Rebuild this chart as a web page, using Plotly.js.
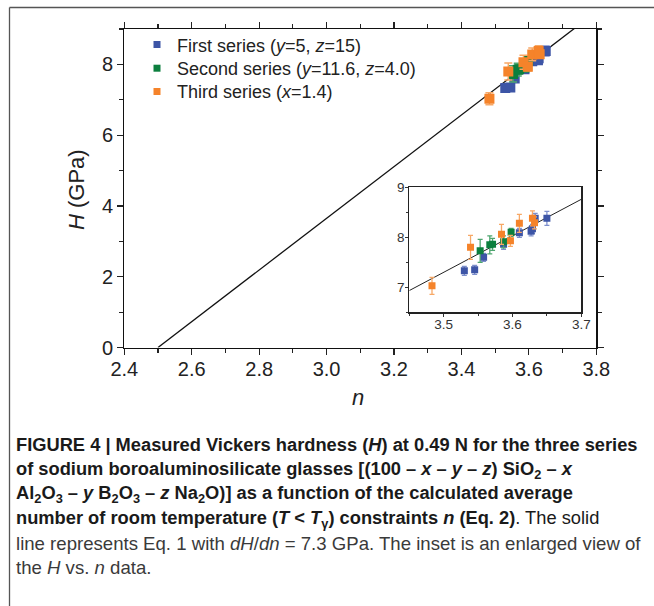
<!DOCTYPE html>
<html><head><meta charset="utf-8">
<script src="https://cdn.plot.ly/plotly-3.0.1.min.js"></script>
<style>html,body{margin:0;padding:0;background:#fff}#chart{width:654px;height:606px}</style>
</head><body><div id="chart"></div>
<script>
// ---- data ----
const firstN   = [3.530, 3.545, 3.558, 3.587, 3.610, 3.627, 3.629, 3.633, 3.650];
const firstH   = [7.33, 7.35, 7.60, 7.86, 8.09, 8.12, 8.17, 8.38, 8.38];
const firstErr = [0.09, 0.09, 0.08, 0.10, 0.09, 0.09, 0.09, 0.10, 0.14];

const secondN   = [3.553, 3.567, 3.571, 3.587, 3.598];
const secondH   = [7.73, 7.85, 7.86, 7.91, 8.10];
const secondErr = [0.23, 0.18, 0.12, 0.12, 0.08];

const thirdN   = [3.483, 3.539, 3.584, 3.597, 3.610, 3.629, 3.632];
const thirdH   = [7.03, 7.80, 8.06, 7.93, 8.28, 8.38, 8.29];
const thirdErr = [0.17, 0.24, 0.20, 0.11, 0.18, 0.15, 0.12];

const seriesNames = [
  'First series (<i>y</i>=5, <i>z</i>=15)',
  'Second series (<i>y</i>=11.6, <i>z</i>=4.0)',
  'Third series (<i>x</i>=1.4)'
];
const seriesColors = ['#3d55a6', '#0c7f3e', '#f5832a'];
const errColors    = ['#7d8fcc', '#4ea56f', '#f7a866'];

// Eq. 1 : H = dH/dn * (n - n0)
const slope = 7.3;
const n0 = 2.5;
const mainLineN  = [n0, 3.8];
const insetLineN = [3.45, 3.7];

const captionLines = [
  '<b>FIGURE 4 | Measured Vickers hardness (<i>H</i>) at 0.49 N for the three series</b>',
  '<b>of sodium boroaluminosilicate glasses [(100 – <i>x</i> – <i>y</i> – <i>z</i>) SiO<sub>2</sub> – <i>x</i></b>',
  '<b>Al<sub>2</sub>O<sub>3</sub> – <i>y</i> B<sub>2</sub>O<sub>3</sub> – <i>z</i> Na<sub>2</sub>O)] as a function of the calculated average</b>',
  '<b>number of room temperature (<i>T</i> &lt; <i>T</i><sub>γ</sub>) constraints <i>n</i> (Eq. 2)</b>. The solid',
  'line represents Eq. 1 with <i>dH</i>/<i>dn</i> = 7.3 GPa. The inset is an enlarged view of',
  'the <i>H</i> vs. <i>n</i> data.'
];

// ---- build ----
const W = 654, H = 606;
const px = v => v / W;
const py = v => 1 - v / H;
const eq1 = arr => arr.map(n => slope * (n - n0));

const series = [
  {n: firstN, h: firstH, e: firstErr},
  {n: secondN, h: secondH, e: secondErr},
  {n: thirdN, h: thirdH, e: thirdErr}
];

const traces = [];
traces.push({x: mainLineN, y: eq1(mainLineN), mode: 'lines', xaxis: 'x', yaxis: 'y',
  line: {color: '#111', width: 1.3}, showlegend: false, hoverinfo: 'skip'});
traces.push({x: insetLineN, y: eq1(insetLineN), mode: 'lines', xaxis: 'x2', yaxis: 'y2',
  line: {color: '#222', width: 1}, showlegend: false, hoverinfo: 'skip'});

series.forEach((s, i) => {
  traces.push({x: s.n, y: s.h, mode: 'markers', type: 'scatter', xaxis: 'x', yaxis: 'y',
    name: seriesNames[i], showlegend: false,
    marker: {symbol: 'square', size: 10, color: seriesColors[i]},
    error_y: {type: 'data', array: s.e, visible: true, color: errColors[i], thickness: 1.5, width: 4}});
});
const legendIds = ['legend', 'legend2', 'legend3'];
series.forEach((s, i) => {
  traces.push({x: s.n, y: s.h, mode: 'markers', type: 'scatter', xaxis: 'x2', yaxis: 'y2',
    name: seriesNames[i], showlegend: true, legend: legendIds[i],
    marker: {symbol: 'square', size: 7, color: seriesColors[i]},
    error_y: {type: 'data', array: s.e, visible: true, color: errColors[i], thickness: 1.3, width: 2.5}});
});

const FONT = 'Liberation Sans, Arial, Helvetica, sans-serif';

const annotations = [
  {text: '<i>H</i> (GPa)', xref: 'paper', yref: 'paper', x: px(76), y: py(190), textangle: -90,
   showarrow: false, xanchor: 'center', yanchor: 'middle', font: {family: FONT, size: 22, color: '#222'}},
  {text: '<i>n</i>', xref: 'paper', yref: 'paper', x: px(358), y: py(397),
   showarrow: false, xanchor: 'center', yanchor: 'middle', font: {family: FONT, size: 22, color: '#222'}}
];
const capY = [445, 469.5, 494, 518.5, 543, 567.5];
captionLines.forEach((t, i) => {
  annotations.push({text: t, xref: 'paper', yref: 'paper', x: px(14), y: py(capY[i]),
    xanchor: 'left', yanchor: 'middle', showarrow: false, align: 'left',
    font: {family: FONT, size: i < 4 ? 18.3 : 18.6, color: i < 4 ? '#1a1a1a' : '#3a3a3a'}});
});

const legendBase = {x: px(137), xanchor: 'left', yanchor: 'top', bgcolor: 'rgba(0,0,0,0)',
  font: {family: FONT, size: 18, color: '#222'}, itemwidth: 30};
const legendTops = [26.3, 50, 73.2];

const layout = {
  width: W, height: H,
  margin: {l: 0, r: 0, t: 0, b: 0},
  paper_bgcolor: '#fff', plot_bgcolor: 'rgba(0,0,0,0)',
  font: {family: FONT, color: '#222'},
  showlegend: true,
  legend:  Object.assign({}, legendBase, {y: py(legendTops[0])}),
  legend2: Object.assign({}, legendBase, {y: py(legendTops[1])}),
  legend3: Object.assign({}, legendBase, {y: py(legendTops[2])}),
  xaxis: {domain: [px(124.3), px(596.3)], range: [2.4, 3.8], tick0: 2.4, dtick: 0.2, tickformat: '.1f',
    ticks: 'outside', ticklen: 6, tickwidth: 1.2, tickcolor: '#222', showline: true, linecolor: '#111', linewidth: 1.3,
    mirror: 'ticks', showgrid: false, zeroline: false, tickfont: {size: 20, color: '#222'}, ticklabelstandoff: -3,
    minor: {dtick: 0.1, ticklen: 4, tickwidth: 1.2, tickcolor: '#222', ticks: 'outside', showgrid: false},
    anchor: 'y', fixedrange: true},
  yaxis: {domain: [py(347.5), py(29)], range: [0, 9], tick0: 0, dtick: 2,
    ticks: 'outside', ticklen: 6, tickwidth: 1.2, tickcolor: '#222', showline: true, linecolor: '#111', linewidth: 1.3,
    mirror: 'ticks', showgrid: false, zeroline: false, tickfont: {size: 20, color: '#222'},
    minor: {dtick: 1, ticklen: 4, tickwidth: 1.2, tickcolor: '#222', ticks: 'outside', showgrid: false},
    anchor: 'x', fixedrange: true},
  xaxis2: {domain: [px(409.3), px(581.3)], range: [3.45, 3.7], tick0: 3.5, dtick: 0.1, tickformat: '.1f',
    ticks: 'outside', ticklen: 3, tickwidth: 1, tickcolor: '#333', showline: true, linecolor: '#222', linewidth: 1.2,
    mirror: true, showgrid: false, zeroline: false, tickfont: {size: 13.5, color: '#333'}, ticklabelstandoff: -4,
    minor: {dtick: 0.05, ticklen: 2, tickwidth: 1, tickcolor: '#333', ticks: 'outside', showgrid: false},
    anchor: 'y2', fixedrange: true},
  yaxis2: {domain: [py(312.3), py(187.3)], range: [6.5, 9], tick0: 7, dtick: 1,
    ticks: 'outside', ticklen: 3, tickwidth: 1, tickcolor: '#333', showline: true, linecolor: '#222', linewidth: 1.2,
    mirror: true, showgrid: false, zeroline: false, tickfont: {size: 13.5, color: '#333'}, ticklabelstandoff: -2,
    minor: {dtick: 0.5, ticklen: 2, tickwidth: 1, tickcolor: '#333', ticks: 'outside', showgrid: false},
    anchor: 'x2', fixedrange: true},
  shapes: [
    {type: 'line', xref: 'paper', yref: 'paper', x0: px(9.5), x1: px(9.5), y0: py(7.5), y1: 0, line: {color: '#555', width: 1.3}},
    {type: 'line', xref: 'paper', yref: 'paper', x0: px(9.5), x1: 1, y0: py(7.5), y1: py(7.5), line: {color: '#555', width: 1.3}}
  ],
  annotations: annotations
};

Plotly.newPlot('chart', traces, layout, {displayModeBar: false, staticPlot: true});
</script>
</body></html>
